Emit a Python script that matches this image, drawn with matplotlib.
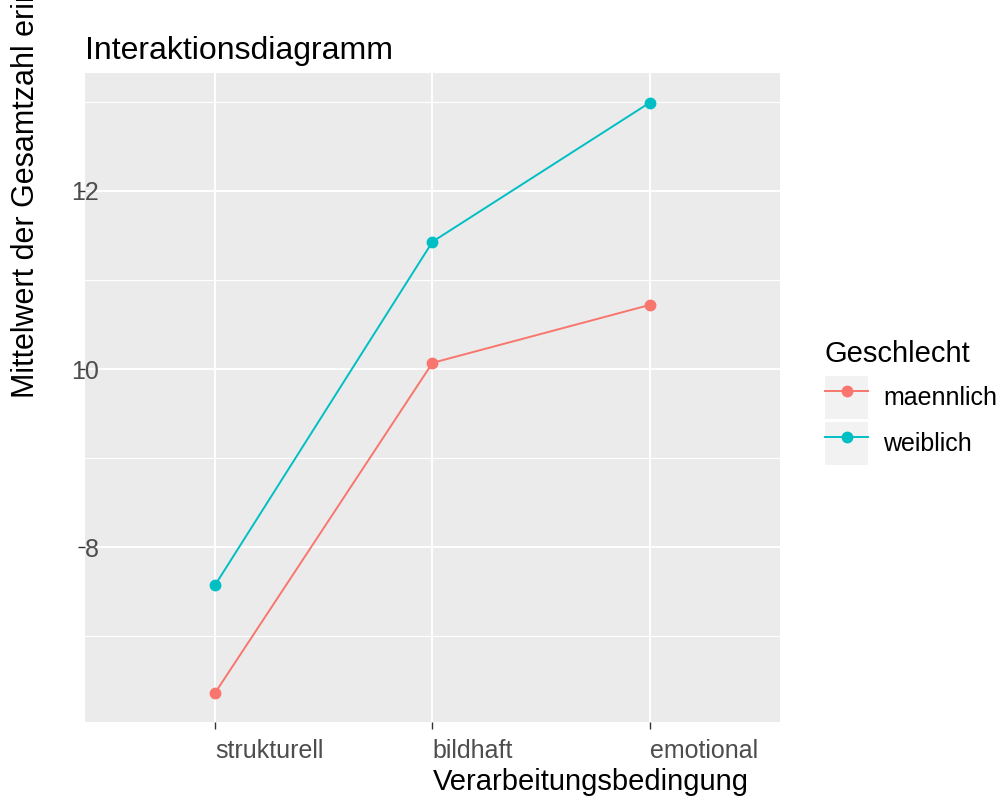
import matplotlib
matplotlib.use("Agg")
import matplotlib.pyplot as plt
from matplotlib.legend_handler import HandlerLine2D
from matplotlib.patches import Rectangle
from matplotlib.ticker import MultipleLocator

plt.rcParams['font.family'] = ['Liberation Sans', 'DejaVu Sans']

# Daten
bedingungen = ['strukturell', 'bildhaft', 'emotional']
maennlich = [6.37, 10.07, 10.72]
weiblich = [7.58, 11.43, 12.99]
gruppen = ['maennlich', 'weiblich']
farben = ['#F8766D', '#00BFC4']
y_ticks = [8, 10, 12]


class KeyHandler(HandlerLine2D):
    # grauer Hintergrund wie bei ggplot-Legenden
    def create_artists(self, legend, orig_handle, xdescent, ydescent,
                       width, height, fontsize, trans):
        bg = Rectangle((-xdescent, -ydescent), width, height,
                       facecolor='#F2F2F2', edgecolor='none', transform=trans)
        arts = super().create_artists(legend, orig_handle, xdescent, ydescent,
                                      width, height, fontsize, trans)
        return [bg] + list(arts)


fig = plt.figure(figsize=(10, 8.01), dpi=100)
ax = fig.add_axes([0.085, 0.0986, 0.695, 0.810])
ax.set_facecolor('#EBEBEB')

x = list(range(1, len(bedingungen) + 1))
handles = []
for werte, name, farbe in zip([maennlich, weiblich], gruppen, farben):
    h, = ax.plot(x, werte, color=farbe, lw=1.4, marker='o', ms=7.5,
                 label=name, zorder=3)
    handles.append(h)

ax.set_xlim(0.4, 3.6)
lo, hi = min(maennlich + weiblich), max(maennlich + weiblich)
pad = (hi - lo) * 0.05
ax.set_ylim(lo - pad, hi + pad)

ax.set_xticks(x, bedingungen)
for lab in ax.get_xticklabels():
    lab.set_ha('left')
ax.set_yticks(y_ticks)
ax.yaxis.set_minor_locator(MultipleLocator(1))
ax.xaxis.set_minor_locator(plt.NullLocator())

ax.grid(which='major', color='white', lw=1.4)
ax.grid(which='minor', axis='y', color='white', lw=0.8)
ax.set_axisbelow(True)
for s in ax.spines.values():
    s.set_visible(False)

ax.tick_params(axis='both', which='major', length=5, width=1, color='#333333',
               labelcolor='#4D4D4D', labelsize=18)
ax.tick_params(axis='y', which='minor', length=0)
ax.tick_params(axis='y', pad=-15)
ax.tick_params(axis='x', pad=7)

ax.set_xlabel('Verarbeitungsbedingung', fontsize=21, labelpad=4)
ax.xaxis.label.set_ha('left')
ax.set_ylabel('Mittelwert der Gesamtzahl erinnerter Wörter', fontsize=22)
ax.yaxis.label.set_ha('left')
ax.yaxis.set_label_coords(-0.063, 0.5)

ax.set_title('Interaktionsdiagramm', loc='left', fontsize=23, pad=10)

# Legende: Titel separat, Schluessel mit grauem Hintergrund
fig.text(0.825, 0.548, 'Geschlecht', fontsize=21, ha='left', va='baseline')
fig.legend(handles=handles, labels=gruppen,
           loc='upper left', bbox_to_anchor=(0.825, 0.5306),
           frameon=False, fontsize=18, numpoints=1, handlelength=1.72,
           handleheight=2.27, handletextpad=0.6, labelspacing=0.12,
           borderpad=0, borderaxespad=0,
           handler_map={h: KeyHandler() for h in handles})

fig.savefig('out.png', dpi=100)
